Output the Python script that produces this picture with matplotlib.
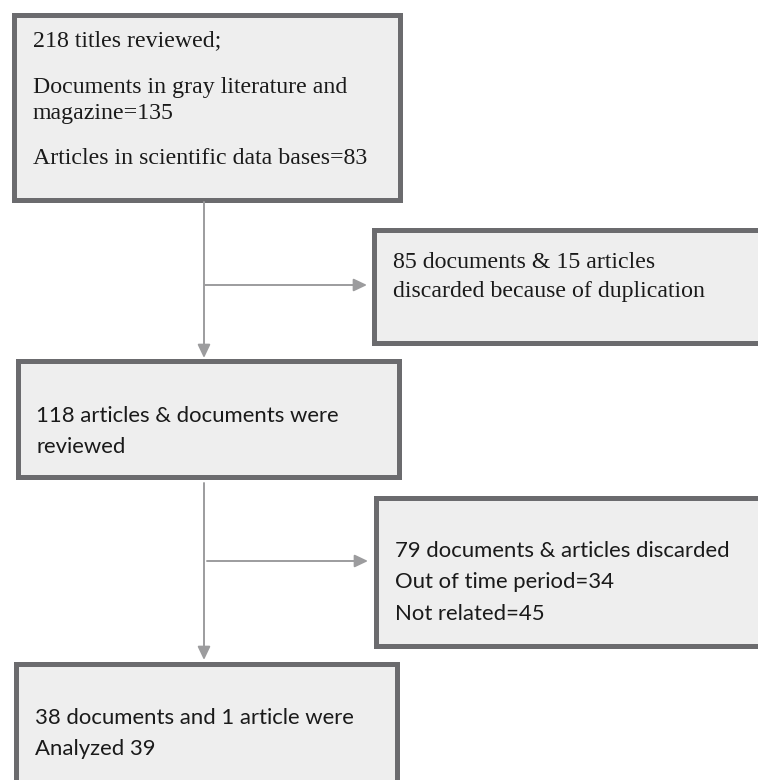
import matplotlib
matplotlib.use("Agg")
import matplotlib.pyplot as plt
from matplotlib.patches import Rectangle

# ---- content ----
box1_lines = ["218 titles reviewed;", "Documents in gray literature and", "magazine=135",
              "Articles in scientific data bases=83"]
box2_lines = ["85 documents & 15 articles", "discarded because of duplication"]
box3_lines = ["118 articles & documents were", "reviewed"]
box4_lines = ["79 documents & articles discarded", "Out of time period=34", "Not related=45"]
box5_lines = ["38 documents and 1 article were", "Analyzed 39"]

# ---- layout (pixel space, y down) ----
W, H = 758, 780
EDGE = "#6b6b6e"
FILL = "#eeeeee"
ARROW = "#9c9c9e"
BW = 5  # border px

# boxes: outer left, top, right, bottom
boxes = [
    (11, 12, 402, 202),
    (371, 227, 800, 345),
    (15, 358, 401, 479),
    (373, 495, 800, 648),
    (13, 661, 399, 830),
]
serif = "Liberation Serif"
sans = "Lato"
texts = [
    (box1_lines, 33, [41, 87, 113, 158], serif, 17.2),
    (box2_lines, 393, [263, 292], serif, 17.2),
    (box3_lines, 36, [416, 447], sans, 15.9),
    (box4_lines, 395, [551, 582, 614], sans, 15.9),
    (box5_lines, 35, [718, 749], sans, 15.9),
]

fig = plt.figure(figsize=(W / 100, H / 100), dpi=100)
ax = fig.add_axes([0, 0, 1, 1])
ax.set_xlim(0, W)
ax.set_ylim(H, 0)
ax.axis("off")

lw = BW * 72 / 100
for (l, t, r, b) in boxes:
    ax.add_patch(Rectangle((l + BW / 2, t + BW / 2), r - l - BW, b - t - BW,
                           facecolor=FILL, edgecolor=EDGE, linewidth=lw,
                           joinstyle="miter", zorder=1))

for lines, x, ys, fam, fs in texts:
    for s, y in zip(lines, ys):
        ax.text(x, y, s, family=fam, fontsize=fs, color="#1a1a1a",
                ha="left", va="center", zorder=3)

def arrow(x0, y0, x1, y1):
    ax.annotate("", xy=(x1, y1), xytext=(x0, y0),
                arrowprops=dict(arrowstyle="-|>,head_length=0.8,head_width=0.38",
                                color=ARROW, lw=1.4, shrinkA=0, shrinkB=0),
                zorder=2)

# vertical flow arrows
arrow(204, 202, 204, 358)
arrow(204, 483, 204, 660)
# side branches
arrow(205, 285, 367, 285)
arrow(207, 561, 368, 561)

fig.savefig("out.png", dpi=100, facecolor="white")
